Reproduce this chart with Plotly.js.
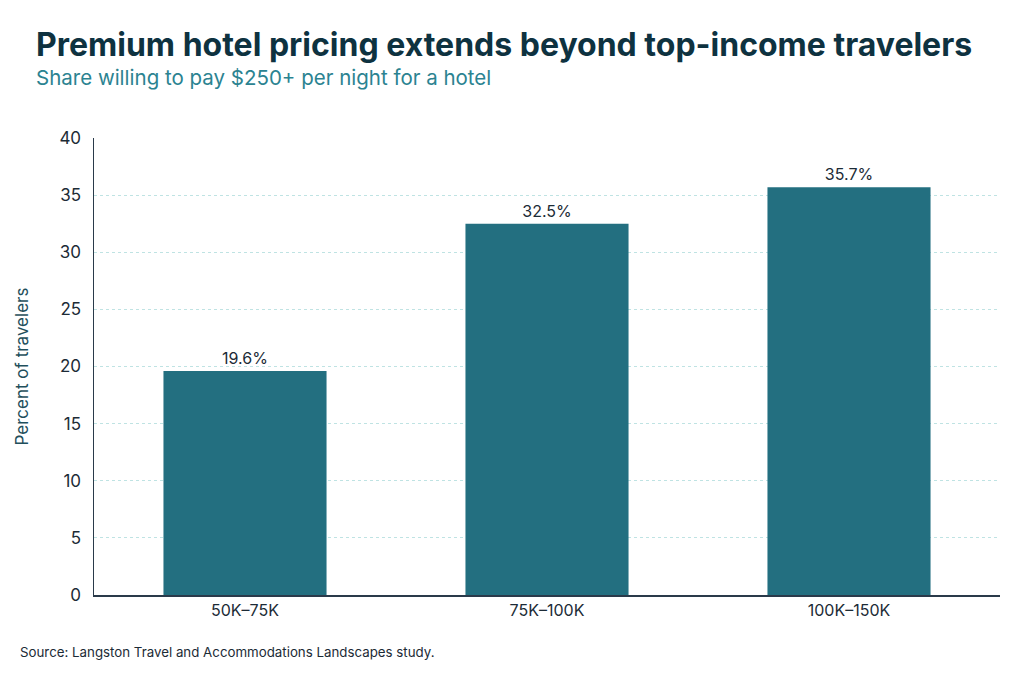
<!DOCTYPE html>
<html>
<head>
<meta charset="utf-8">
<script src="https://cdn.plot.ly/plotly-3.0.1.min.js"></script>
<style>html,body{margin:0;padding:0;background:#fff}#chart{width:1024px;height:683px}</style>
</head>
<body>
<div id="chart"></div>
<script>
const categories = ["50K–75K", "75K–100K", "100K–150K"];
const shares = [19.6, 32.5, 35.7];
const labels = ["19.6%", "32.5%", "35.7%"];

const FONT = "Inter, 'Open Sans', sans-serif";

const trace = {
  type: "bar",
  x: categories,
  y: shares,
  text: labels,
  textposition: "outside",
  textfont: { family: FONT, size: 16, color: "#1c2b36" },
  cliponaxis: false,
  marker: { color: "#236f80" },
  width: 0.54,
  hoverinfo: "skip",
};

const layout = {
  width: 1024,
  height: 683,
  paper_bgcolor: "#fff",
  plot_bgcolor: "#fff",
  margin: { t: 138, b: 88, l: 94, r: 24 },
  showlegend: false,
  font: { family: FONT, color: "#1c2b36" },
  xaxis: {
    showline: true,
    linecolor: "#2a3a4a",
    linewidth: 1.5,
    ticks: "",
    tickfont: { family: FONT, size: 16, color: "#1c2b36" },
    showgrid: false,
  },
  yaxis: {
    range: [0, 40],
    dtick: 5,
    showline: true,
    linecolor: "#2a3a4a",
    linewidth: 1.5,
    gridcolor: "#bfe3e3",
    griddash: "dot",
    zeroline: false,
    ticks: "",
    ticklabelstandoff: 8,
    tickfont: { family: FONT, size: 17, color: "#1c2b36" },
    title: { text: "Percent of travelers", font: { family: FONT, size: 17, color: "#1f4f5c" }, standoff: 26 },
  },
  annotations: [
    {
      xref: "paper", yref: "paper", x: -0.066, y: 1.158,
      xanchor: "left", yanchor: "bottom", showarrow: false,
      text: "<b>Premium hotel pricing extends beyond top-income travelers</b>",
      font: { family: FONT, size: 32, color: "#0e3240" },
    },
    {
      xref: "paper", yref: "paper", x: -0.066, y: 1.1,
      xanchor: "left", yanchor: "bottom", showarrow: false,
      text: "Share willing to pay $250+ per night for a hotel",
      font: { family: FONT, size: 20.5, color: "#2b8391" },
    },
    {
      xref: "paper", yref: "paper", x: -0.084, y: -0.103,
      xanchor: "left", yanchor: "top", showarrow: false,
      text: "Source: Langston Travel and Accommodations Landscapes study.",
      font: { family: FONT, size: 13.3, color: "#1c2b36" },
    },
  ],
};

Plotly.newPlot("chart", [trace], layout, { displayModeBar: false, staticPlot: true });
</script>
</body>
</html>
